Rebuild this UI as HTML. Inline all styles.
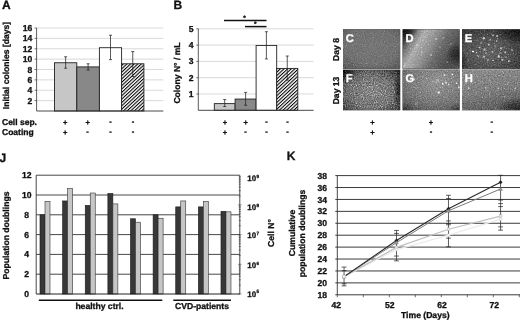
<!DOCTYPE html>
<html><head><meta charset="utf-8"><title>Figure</title>
<style>
html,body{margin:0;padding:0;background:#fff;}
body{width:520px;height:321px;overflow:hidden;}
svg{display:block;}
text{font-family:"Liberation Sans",Arial,sans-serif;font-weight:bold;fill:#111;stroke:#111;stroke-width:0.3px;text-rendering:geometricPrecision;}
</style></head><body>
<svg width="520" height="321" viewBox="0 0 520 321">
<defs>
<pattern id="hatch" width="2.46" height="2.46" patternUnits="userSpaceOnUse" patternTransform="rotate(-43)">
<rect width="2.46" height="2.46" fill="#fff"/><rect width="2.46" height="1.05" fill="#000"/>
</pattern>
<filter id="blur" x="-5%" y="-5%" width="110%" height="110%"><feGaussianBlur stdDeviation="0.35"/></filter>

<filter id="nC" x="0" y="0" width="100%" height="100%" color-interpolation-filters="sRGB">
<feTurbulence type="fractalNoise" baseFrequency="0.9" numOctaves="2" seed="3" result="t"/>
<feColorMatrix in="t" type="matrix" values="1 0 0 0 0  1 0 0 0 0  1 0 0 0 0  0 0 0 0 1" result="g"/>
<feGaussianBlur in="g" stdDeviation="0.45" result="gb"/>
<feComposite in="SourceGraphic" in2="gb" operator="arithmetic" k1="0" k2="1" k3="0.2" k4="-0.1" result="base"/>
<feColorMatrix in="t" type="matrix" values="0 1.6 0 0 -0.3  0 1.6 0 0 -0.3  0 1.6 0 0 -0.3  0 0 0 0 1" result="g2"/>
<feComponentTransfer in="g2" result="sp"><feFuncR type="gamma" amplitude="0.1" exponent="6" offset="0"/><feFuncG type="gamma" amplitude="0.1" exponent="6" offset="0"/><feFuncB type="gamma" amplitude="0.1" exponent="6" offset="0"/></feComponentTransfer>
<feGaussianBlur in="sp" stdDeviation="0.45" result="spb"/>
<feComposite in="SourceGraphic" in2="spb" operator="arithmetic" k1="2.5" k2="0" k3="0" k4="0" result="ms"/>
<feComposite in="base" in2="ms" operator="arithmetic" k1="0" k2="1" k3="1" k4="0"/>
</filter>
<filter id="nD" x="0" y="0" width="100%" height="100%" color-interpolation-filters="sRGB">
<feTurbulence type="fractalNoise" baseFrequency="0.7" numOctaves="2" seed="7" result="t"/>
<feColorMatrix in="t" type="matrix" values="1 0 0 0 0  1 0 0 0 0  1 0 0 0 0  0 0 0 0 1" result="g"/>
<feGaussianBlur in="g" stdDeviation="0.6" result="gb"/>
<feComposite in="SourceGraphic" in2="gb" operator="arithmetic" k1="0" k2="1" k3="0.2" k4="-0.1" result="base"/>
<feColorMatrix in="t" type="matrix" values="0 1.6 0 0 -0.3  0 1.6 0 0 -0.3  0 1.6 0 0 -0.3  0 0 0 0 1" result="g2"/>
<feComponentTransfer in="g2" result="sp"><feFuncR type="gamma" amplitude="0.1" exponent="6" offset="0"/><feFuncG type="gamma" amplitude="0.1" exponent="6" offset="0"/><feFuncB type="gamma" amplitude="0.1" exponent="6" offset="0"/></feComponentTransfer>
<feGaussianBlur in="sp" stdDeviation="0.6" result="spb"/>
<feComposite in="SourceGraphic" in2="spb" operator="arithmetic" k1="2.5" k2="0" k3="0" k4="0" result="ms"/>
<feComposite in="base" in2="ms" operator="arithmetic" k1="0" k2="1" k3="1" k4="0"/>
</filter>
<filter id="nE" x="0" y="0" width="100%" height="100%" color-interpolation-filters="sRGB">
<feTurbulence type="fractalNoise" baseFrequency="0.7" numOctaves="2" seed="11" result="t"/>
<feColorMatrix in="t" type="matrix" values="1 0 0 0 0  1 0 0 0 0  1 0 0 0 0  0 0 0 0 1" result="g"/>
<feGaussianBlur in="g" stdDeviation="0.5" result="gb"/>
<feComposite in="SourceGraphic" in2="gb" operator="arithmetic" k1="0" k2="1" k3="0.3" k4="-0.15" result="base"/>
<feColorMatrix in="t" type="matrix" values="0 1.6 0 0 -0.3  0 1.6 0 0 -0.3  0 1.6 0 0 -0.3  0 0 0 0 1" result="g2"/>
<feComponentTransfer in="g2" result="sp"><feFuncR type="gamma" amplitude="0.3" exponent="6" offset="0"/><feFuncG type="gamma" amplitude="0.3" exponent="6" offset="0"/><feFuncB type="gamma" amplitude="0.3" exponent="6" offset="0"/></feComponentTransfer>
<feGaussianBlur in="sp" stdDeviation="0.5" result="spb"/>
<feComposite in="SourceGraphic" in2="spb" operator="arithmetic" k1="2.5" k2="0" k3="0" k4="0" result="ms"/>
<feComposite in="base" in2="ms" operator="arithmetic" k1="0" k2="1" k3="1" k4="0"/>
</filter>
<filter id="nF" x="0" y="0" width="100%" height="100%" color-interpolation-filters="sRGB">
<feTurbulence type="fractalNoise" baseFrequency="0.9" numOctaves="2" seed="5" result="t"/>
<feColorMatrix in="t" type="matrix" values="1 0 0 0 0  1 0 0 0 0  1 0 0 0 0  0 0 0 0 1" result="g"/>
<feGaussianBlur in="g" stdDeviation="0.5" result="gb"/>
<feComposite in="SourceGraphic" in2="gb" operator="arithmetic" k1="0" k2="1" k3="0.45" k4="-0.225" result="base"/>
<feColorMatrix in="t" type="matrix" values="0 1.6 0 0 -0.3  0 1.6 0 0 -0.3  0 1.6 0 0 -0.3  0 0 0 0 1" result="g2"/>
<feComponentTransfer in="g2" result="sp"><feFuncR type="gamma" amplitude="0.32" exponent="3" offset="0"/><feFuncG type="gamma" amplitude="0.32" exponent="3" offset="0"/><feFuncB type="gamma" amplitude="0.32" exponent="3" offset="0"/></feComponentTransfer>
<feGaussianBlur in="sp" stdDeviation="0.5" result="spb"/>
<feComposite in="SourceGraphic" in2="spb" operator="arithmetic" k1="2.5" k2="0" k3="0" k4="0" result="ms"/>
<feComposite in="base" in2="ms" operator="arithmetic" k1="0" k2="1" k3="1" k4="0"/>
</filter>
<filter id="nG" x="0" y="0" width="100%" height="100%" color-interpolation-filters="sRGB">
<feTurbulence type="fractalNoise" baseFrequency="0.8" numOctaves="2" seed="9" result="t"/>
<feColorMatrix in="t" type="matrix" values="1 0 0 0 0  1 0 0 0 0  1 0 0 0 0  0 0 0 0 1" result="g"/>
<feGaussianBlur in="g" stdDeviation="0.45" result="gb"/>
<feComposite in="SourceGraphic" in2="gb" operator="arithmetic" k1="0" k2="1" k3="0.32" k4="-0.16" result="base"/>
<feColorMatrix in="t" type="matrix" values="0 1.6 0 0 -0.3  0 1.6 0 0 -0.3  0 1.6 0 0 -0.3  0 0 0 0 1" result="g2"/>
<feComponentTransfer in="g2" result="sp"><feFuncR type="gamma" amplitude="0.15" exponent="6" offset="0"/><feFuncG type="gamma" amplitude="0.15" exponent="6" offset="0"/><feFuncB type="gamma" amplitude="0.15" exponent="6" offset="0"/></feComponentTransfer>
<feGaussianBlur in="sp" stdDeviation="0.45" result="spb"/>
<feComposite in="SourceGraphic" in2="spb" operator="arithmetic" k1="2.5" k2="0" k3="0" k4="0" result="ms"/>
<feComposite in="base" in2="ms" operator="arithmetic" k1="0" k2="1" k3="1" k4="0"/>
</filter>
<filter id="nH" x="0" y="0" width="100%" height="100%" color-interpolation-filters="sRGB">
<feTurbulence type="fractalNoise" baseFrequency="0.85" numOctaves="2" seed="13" result="t"/>
<feColorMatrix in="t" type="matrix" values="1 0 0 0 0  1 0 0 0 0  1 0 0 0 0  0 0 0 0 1" result="g"/>
<feGaussianBlur in="g" stdDeviation="0.45" result="gb"/>
<feComposite in="SourceGraphic" in2="gb" operator="arithmetic" k1="0" k2="1" k3="0.36" k4="-0.18" result="base"/>
<feColorMatrix in="t" type="matrix" values="0 1.6 0 0 -0.3  0 1.6 0 0 -0.3  0 1.6 0 0 -0.3  0 0 0 0 1" result="g2"/>
<feComponentTransfer in="g2" result="sp"><feFuncR type="gamma" amplitude="0.15" exponent="6" offset="0"/><feFuncG type="gamma" amplitude="0.15" exponent="6" offset="0"/><feFuncB type="gamma" amplitude="0.15" exponent="6" offset="0"/></feComponentTransfer>
<feGaussianBlur in="sp" stdDeviation="0.45" result="spb"/>
<feComposite in="SourceGraphic" in2="spb" operator="arithmetic" k1="2.5" k2="0" k3="0" k4="0" result="ms"/>
<feComposite in="base" in2="ms" operator="arithmetic" k1="0" k2="1" k3="1" k4="0"/>
</filter>

<linearGradient id="gD" gradientUnits="userSpaceOnUse" x1="402.6" y1="29.3" x2="462.1" y2="64.1">
<stop offset="0" stop-color="#1e1e1e"/><stop offset="0.1" stop-color="#3c3c3c"/><stop offset="0.2" stop-color="#808080"/><stop offset="0.3" stop-color="#acacac"/><stop offset="0.45" stop-color="#929292"/><stop offset="0.6" stop-color="#6c6c6c"/><stop offset="0.8" stop-color="#4e4e4e"/><stop offset="1" stop-color="#525252"/>
</linearGradient>
<radialGradient id="dk"><stop offset="0" stop-color="#000" stop-opacity="0.6"/><stop offset="0.5" stop-color="#000" stop-opacity="0.35"/><stop offset="1" stop-color="#000" stop-opacity="0"/></radialGradient>
<filter id="spotblur" x="-10%" y="-10%" width="120%" height="120%"><feGaussianBlur stdDeviation="0.7"/></filter>
<filter id="spotblurS" x="-10%" y="-10%" width="120%" height="120%"><feGaussianBlur stdDeviation="0.6"/></filter>
<radialGradient id="gC" cx="0.5" cy="0.45" r="0.75">
<stop offset="0" stop-color="#757575"/><stop offset="0.6" stop-color="#707070"/><stop offset="1" stop-color="#555"/>
</radialGradient>
<radialGradient id="gE" cx="0.45" cy="0.6" r="0.75">
<stop offset="0" stop-color="#626262"/><stop offset="0.5" stop-color="#505050"/><stop offset="1" stop-color="#303030"/>
</radialGradient>
<radialGradient id="gF" cx="0.5" cy="0.55" r="0.72">
<stop offset="0" stop-color="#7a7a7a"/><stop offset="0.55" stop-color="#666"/><stop offset="0.85" stop-color="#444"/><stop offset="1" stop-color="#222"/>
</radialGradient>
<radialGradient id="gG" cx="0.6" cy="0.3" r="0.85">
<stop offset="0" stop-color="#939393"/><stop offset="0.6" stop-color="#777"/><stop offset="1" stop-color="#555"/>
</radialGradient>
<linearGradient id="gH" x1="0" y1="0" x2="0.3" y2="1">
<stop offset="0" stop-color="#8a8a8a"/><stop offset="0.6" stop-color="#7c7c7c"/><stop offset="1" stop-color="#606060"/>
</linearGradient>
</defs>
<rect width="520" height="321" fill="#fff"/>

<g id="panelA">
<text x="1.9" y="8.6" font-size="12">A</text>
<line x1="36.6" x2="163.3" y1="100.62" y2="100.62" stroke="#c8c8c8" stroke-width="0.7"/>
<line x1="34.6" x2="36.6" y1="100.62" y2="100.62" stroke="#333" stroke-width="0.7"/>
<text x="32.4" y="103.72" font-size="8.6" text-anchor="end">2</text>
<line x1="36.6" x2="163.3" y1="90.25" y2="90.25" stroke="#c8c8c8" stroke-width="0.7"/>
<line x1="34.6" x2="36.6" y1="90.25" y2="90.25" stroke="#333" stroke-width="0.7"/>
<text x="32.4" y="93.35" font-size="8.6" text-anchor="end">4</text>
<line x1="36.6" x2="163.3" y1="79.88" y2="79.88" stroke="#c8c8c8" stroke-width="0.7"/>
<line x1="34.6" x2="36.6" y1="79.88" y2="79.88" stroke="#333" stroke-width="0.7"/>
<text x="32.4" y="82.97" font-size="8.6" text-anchor="end">6</text>
<line x1="36.6" x2="163.3" y1="69.50" y2="69.50" stroke="#c8c8c8" stroke-width="0.7"/>
<line x1="34.6" x2="36.6" y1="69.50" y2="69.50" stroke="#333" stroke-width="0.7"/>
<text x="32.4" y="72.60" font-size="8.6" text-anchor="end">8</text>
<line x1="36.6" x2="163.3" y1="59.12" y2="59.12" stroke="#c8c8c8" stroke-width="0.7"/>
<line x1="34.6" x2="36.6" y1="59.12" y2="59.12" stroke="#333" stroke-width="0.7"/>
<text x="32.4" y="62.23" font-size="8.6" text-anchor="end">10</text>
<line x1="36.6" x2="163.3" y1="48.75" y2="48.75" stroke="#c8c8c8" stroke-width="0.7"/>
<line x1="34.6" x2="36.6" y1="48.75" y2="48.75" stroke="#333" stroke-width="0.7"/>
<text x="32.4" y="51.85" font-size="8.6" text-anchor="end">12</text>
<line x1="36.6" x2="163.3" y1="38.38" y2="38.38" stroke="#c8c8c8" stroke-width="0.7"/>
<line x1="34.6" x2="36.6" y1="38.38" y2="38.38" stroke="#333" stroke-width="0.7"/>
<text x="32.4" y="41.48" font-size="8.6" text-anchor="end">14</text>
<line x1="36.6" x2="163.3" y1="28.00" y2="28.00" stroke="#c8c8c8" stroke-width="0.7"/>
<line x1="34.6" x2="36.6" y1="28.00" y2="28.00" stroke="#333" stroke-width="0.7"/>
<text x="32.4" y="31.10" font-size="8.6" text-anchor="end">16</text>
<rect x="54.5" y="62.76" width="22.30" height="48.24" fill="#c6c6c6" stroke="#222" stroke-width="0.9"/>
<rect x="76.8" y="66.91" width="22.60" height="44.09" fill="#888888" stroke="#222" stroke-width="0.9"/>
<rect x="99.4" y="47.71" width="22.20" height="63.29" fill="#ffffff" stroke="#222" stroke-width="0.9"/>
<rect x="121.6" y="63.79" width="22.30" height="47.21" fill="url(#hatch)" stroke="#222" stroke-width="0.9"/>
<path d="M65.65 56.79V68.20M64.15 56.79h3M64.15 68.20h3" stroke="#222" stroke-width="0.75" fill="none"/>
<path d="M88.10 63.79V70.02M86.60 63.79h3M86.60 70.02h3" stroke="#222" stroke-width="0.75" fill="none"/>
<path d="M110.50 35.26V59.64M109.00 35.26h3M109.00 59.64h3" stroke="#222" stroke-width="0.75" fill="none"/>
<path d="M132.75 51.60V76.50M131.25 51.60h3M131.25 76.50h3" stroke="#222" stroke-width="0.75" fill="none"/>
<line x1="36.6" x2="36.6" y1="28.0" y2="111.0" stroke="#333" stroke-width="0.8"/>
<line x1="36.6" x2="163.3" y1="111.0" y2="111.0" stroke="#333" stroke-width="0.9"/>
<text transform="translate(8.5,65.5) rotate(-90)" font-size="8.6" text-anchor="middle">Initial colonies [days]</text>
<text x="2" y="124.6" font-size="8.5">Cell sep.</text>
<text x="2" y="134.8" font-size="8.5">Coating</text>
<text x="65.2" y="124.6" font-size="7.5" text-anchor="middle">+</text>
<text x="87.6" y="124.6" font-size="7.5" text-anchor="middle">+</text>
<text x="110.6" y="123.69999999999999" font-size="7.5" text-anchor="middle">-</text>
<text x="133" y="123.69999999999999" font-size="7.5" text-anchor="middle">-</text>
<text x="65.2" y="134.8" font-size="7.5" text-anchor="middle">+</text>
<text x="87.6" y="133.9" font-size="7.5" text-anchor="middle">-</text>
<text x="110.6" y="133.9" font-size="7.5" text-anchor="middle">-</text>
<text x="133" y="133.9" font-size="7.5" text-anchor="middle">-</text>
</g>
<g id="panelB">
<text x="173.6" y="8.7" font-size="12">B</text>
<line x1="198.3" x2="313.6" y1="94.00" y2="94.00" stroke="#c8c8c8" stroke-width="0.7"/>
<line x1="196.3" x2="198.3" y1="94.00" y2="94.00" stroke="#333" stroke-width="0.7"/>
<text x="193.5" y="97.00" font-size="8.6" text-anchor="end">1</text>
<line x1="198.3" x2="313.6" y1="77.70" y2="77.70" stroke="#c8c8c8" stroke-width="0.7"/>
<line x1="196.3" x2="198.3" y1="77.70" y2="77.70" stroke="#333" stroke-width="0.7"/>
<text x="193.5" y="80.70" font-size="8.6" text-anchor="end">2</text>
<line x1="198.3" x2="313.6" y1="61.40" y2="61.40" stroke="#c8c8c8" stroke-width="0.7"/>
<line x1="196.3" x2="198.3" y1="61.40" y2="61.40" stroke="#333" stroke-width="0.7"/>
<text x="193.5" y="64.40" font-size="8.6" text-anchor="end">3</text>
<line x1="198.3" x2="313.6" y1="45.10" y2="45.10" stroke="#c8c8c8" stroke-width="0.7"/>
<line x1="196.3" x2="198.3" y1="45.10" y2="45.10" stroke="#333" stroke-width="0.7"/>
<text x="193.5" y="48.10" font-size="8.6" text-anchor="end">4</text>
<line x1="198.3" x2="313.6" y1="28.80" y2="28.80" stroke="#c8c8c8" stroke-width="0.7"/>
<line x1="196.3" x2="198.3" y1="28.80" y2="28.80" stroke="#333" stroke-width="0.7"/>
<text x="193.5" y="31.80" font-size="8.6" text-anchor="end">5</text>
<rect x="214.3" y="103.62" width="20.80" height="6.68" fill="#c6c6c6" stroke="#222" stroke-width="0.9"/>
<rect x="235.1" y="99.05" width="21.00" height="11.25" fill="#888888" stroke="#222" stroke-width="0.9"/>
<rect x="256.1" y="45.43" width="20.60" height="64.87" fill="#ffffff" stroke="#222" stroke-width="0.9"/>
<rect x="276.7" y="68.41" width="21.10" height="41.89" fill="url(#hatch)" stroke="#222" stroke-width="0.9"/>
<path d="M224.70 99.54V106.55M223.20 99.54h3M223.20 106.55h3" stroke="#222" stroke-width="0.75" fill="none"/>
<path d="M245.60 92.37V105.25M244.10 92.37h3M244.10 105.25h3" stroke="#222" stroke-width="0.75" fill="none"/>
<path d="M266.40 31.73V58.96M264.90 31.73h3M264.90 58.96h3" stroke="#222" stroke-width="0.75" fill="none"/>
<path d="M287.25 56.02V80.14M285.75 56.02h3M285.75 80.14h3" stroke="#222" stroke-width="0.75" fill="none"/>
<line x1="198.3" x2="198.3" y1="28.8" y2="110.3" stroke="#333" stroke-width="0.8"/>
<line x1="198.3" x2="313.6" y1="110.3" y2="110.3" stroke="#333" stroke-width="0.9"/>
<line x1="224" x2="266.5" y1="20.6" y2="20.6" stroke="#111" stroke-width="1.5"/>
<line x1="245" x2="266.5" y1="26.6" y2="26.6" stroke="#111" stroke-width="1.5"/>
<text x="244.5" y="20.2" font-size="6.5" text-anchor="middle">*</text>
<text x="255.3" y="26.4" font-size="6.5" text-anchor="middle">*</text>
<text transform="translate(180,73) rotate(-90)" font-size="8.6" text-anchor="middle">Colony N° / mL</text>
<text x="225" y="125" font-size="7.5" text-anchor="middle">+</text>
<text x="245.6" y="125" font-size="7.5" text-anchor="middle">+</text>
<text x="266.6" y="124.1" font-size="7.5" text-anchor="middle">-</text>
<text x="287.4" y="124.1" font-size="7.5" text-anchor="middle">-</text>
<text x="225" y="135" font-size="7.5" text-anchor="middle">+</text>
<text x="245.6" y="134.1" font-size="7.5" text-anchor="middle">-</text>
<text x="266.6" y="134.1" font-size="7.5" text-anchor="middle">-</text>
<text x="287.4" y="134.1" font-size="7.5" text-anchor="middle">-</text>
</g>
<g id="micro">
<rect x="343" y="29.3" width="177" height="80.9" fill="#a4a4a4"/>
<rect x="400.2" y="29" width="2.4" height="81.5" fill="#fff"/>
<rect x="459.6" y="29" width="2.4" height="81.5" fill="#fff"/>
<clipPath id="cpC"><rect x="343" y="29.3" width="57.20" height="39.40"/></clipPath>
<g clip-path="url(#cpC)"><g filter="url(#nC)">
<rect x="343" y="29.3" width="57.20" height="39.40" fill="url(#gC)"/>

</g></g>
<text x="345.8" y="41.5" font-size="11.2" style="fill:#fff;stroke:#fff">C</text>
<clipPath id="cpD"><rect x="402.6" y="29.3" width="57.00" height="39.40"/></clipPath>
<g clip-path="url(#cpD)"><g filter="url(#nD)">
<rect x="402.6" y="29.3" width="57.00" height="39.40" fill="url(#gD)"/>
<ellipse cx="459" cy="55" rx="13" ry="12" fill="url(#dk)"/><ellipse cx="404" cy="31" rx="14" ry="9" fill="url(#dk)"/>
<g filter="url(#spotblur)">
<circle cx="417" cy="45" r="0.88" fill="#fff" fill-opacity="0.5"/>
<circle cx="425" cy="37" r="0.77" fill="#fff" fill-opacity="0.5"/>
<circle cx="436" cy="39" r="0.88" fill="#fff" fill-opacity="0.5"/>
<circle cx="443" cy="38" r="0.77" fill="#fff" fill-opacity="0.5"/>
<circle cx="431" cy="55" r="0.88" fill="#fff" fill-opacity="0.5"/>
<circle cx="440" cy="47" r="0.66" fill="#fff" fill-opacity="0.5"/>
<circle cx="447" cy="62" r="0.66" fill="#fff" fill-opacity="0.5"/>
<circle cx="422" cy="52" r="0.66" fill="#fff" fill-opacity="0.5"/>
<circle cx="451" cy="44" r="0.66" fill="#fff" fill-opacity="0.5"/>
</g>
</g></g>
<text x="405.40000000000003" y="41.5" font-size="11.2" style="fill:#fff;stroke:#fff">D</text>
<clipPath id="cpE"><rect x="462" y="29.3" width="58.00" height="39.40"/></clipPath>
<g clip-path="url(#cpE)"><g filter="url(#nE)">
<rect x="462" y="29.3" width="58.00" height="39.40" fill="url(#gE)"/>
<ellipse cx="519" cy="30" rx="26" ry="14" fill="url(#dk)"/><ellipse cx="462" cy="62" rx="6" ry="10" fill="url(#dk)" opacity="0.6"/>
<g filter="url(#spotblurS)">
<circle cx="483.8" cy="38.2" r="1.26" fill="#fff" fill-opacity="0.65"/>
<circle cx="493.1" cy="35.3" r="0.92" fill="#fff" fill-opacity="0.65"/>
<circle cx="497" cy="36" r="0.92" fill="#fff" fill-opacity="0.65"/>
<circle cx="488.8" cy="44.6" r="0.92" fill="#fff" fill-opacity="0.65"/>
<circle cx="501" cy="48.2" r="1.03" fill="#fff" fill-opacity="0.65"/>
<circle cx="473" cy="51.5" r="0.92" fill="#fff" fill-opacity="0.65"/>
<circle cx="476.6" cy="52.5" r="0.80" fill="#fff" fill-opacity="0.65"/>
<circle cx="484.5" cy="49.6" r="1.03" fill="#fff" fill-opacity="0.65"/>
<circle cx="483.8" cy="56.8" r="1.03" fill="#fff" fill-opacity="0.65"/>
<circle cx="498.8" cy="56.4" r="1.26" fill="#fff" fill-opacity="0.65"/>
<circle cx="502.4" cy="59.7" r="1.03" fill="#fff" fill-opacity="0.65"/>
<circle cx="505.3" cy="52.5" r="0.92" fill="#fff" fill-opacity="0.65"/>
<circle cx="508.9" cy="61.1" r="0.92" fill="#fff" fill-opacity="0.65"/>
<circle cx="496.7" cy="41" r="0.80" fill="#fff" fill-opacity="0.65"/>
<circle cx="479.5" cy="47.5" r="0.80" fill="#fff" fill-opacity="0.65"/>
<circle cx="492.4" cy="51.8" r="0.92" fill="#fff" fill-opacity="0.65"/>
<circle cx="488" cy="60" r="0.80" fill="#fff" fill-opacity="0.65"/>
<circle cx="493" cy="60.5" r="0.80" fill="#fff" fill-opacity="0.65"/>
<circle cx="486" cy="53" r="0.69" fill="#fff" fill-opacity="0.65"/>
<circle cx="495" cy="46" r="0.69" fill="#fff" fill-opacity="0.65"/>
<circle cx="490" cy="40" r="0.69" fill="#fff" fill-opacity="0.65"/>
<circle cx="500" cy="53" r="0.69" fill="#fff" fill-opacity="0.65"/>
<circle cx="481" cy="43" r="0.69" fill="#fff" fill-opacity="0.65"/>
<circle cx="506" cy="57" r="0.69" fill="#fff" fill-opacity="0.65"/>
<circle cx="478" cy="56" r="0.69" fill="#fff" fill-opacity="0.65"/>
<circle cx="512" cy="50" r="0.69" fill="#fff" fill-opacity="0.65"/>
</g>
</g></g>
<text x="464.8" y="41.5" font-size="11.2" style="fill:#fff;stroke:#fff">E</text>
<clipPath id="cpF"><rect x="343" y="70" width="57.20" height="40.20"/></clipPath>
<g clip-path="url(#cpF)"><g filter="url(#nF)">
<rect x="343" y="70" width="57.20" height="40.20" fill="url(#gF)"/>
<ellipse cx="344" cy="74" rx="12" ry="9" fill="url(#dk)"/><ellipse cx="399" cy="90" rx="6" ry="22" fill="url(#dk)"/>
</g></g>
<text x="345.8" y="82.2" font-size="11.2" style="fill:#fff;stroke:#fff">F</text>
<clipPath id="cpG"><rect x="402.6" y="70" width="57.00" height="40.20"/></clipPath>
<g clip-path="url(#cpG)"><g filter="url(#nG)">
<rect x="402.6" y="70" width="57.00" height="40.20" fill="url(#gG)"/>
<ellipse cx="403" cy="110" rx="12" ry="7" fill="url(#dk)" opacity="0.6"/><ellipse cx="459" cy="110" rx="11" ry="7" fill="url(#dk)" opacity="0.6"/>
<g filter="url(#spotblur)">
<circle cx="438.7" cy="92.5" r="1.32" fill="#fff" fill-opacity="0.7"/>
<circle cx="445.8" cy="82.5" r="0.99" fill="#fff" fill-opacity="0.7"/>
<circle cx="443" cy="83.9" r="0.88" fill="#fff" fill-opacity="0.7"/>
<circle cx="444.4" cy="75.3" r="0.99" fill="#fff" fill-opacity="0.7"/>
<circle cx="452.3" cy="74.6" r="0.99" fill="#fff" fill-opacity="0.7"/>
<circle cx="459" cy="87.5" r="0.99" fill="#fff" fill-opacity="0.7"/>
<circle cx="456.6" cy="83.2" r="0.88" fill="#fff" fill-opacity="0.7"/>
<circle cx="414.3" cy="79.6" r="0.77" fill="#fff" fill-opacity="0.7"/>
<circle cx="438" cy="80.3" r="0.77" fill="#fff" fill-opacity="0.7"/>
<circle cx="448.7" cy="84.6" r="0.88" fill="#fff" fill-opacity="0.7"/>
<circle cx="416" cy="104" r="0.77" fill="#fff" fill-opacity="0.7"/>
</g>
</g></g>
<text x="405.40000000000003" y="82.2" font-size="11.2" style="fill:#fff;stroke:#fff">G</text>
<clipPath id="cpH"><rect x="462" y="70" width="58.00" height="40.20"/></clipPath>
<g clip-path="url(#cpH)"><g filter="url(#nH)">
<rect x="462" y="70" width="58.00" height="40.20" fill="url(#gH)"/>
<ellipse cx="519" cy="109" rx="22" ry="12" fill="url(#dk)"/>
<g filter="url(#spotblur)">
<circle cx="468.7" cy="88.2" r="0.88" fill="#fff" fill-opacity="0.5"/>
<circle cx="485.9" cy="88" r="0.88" fill="#fff" fill-opacity="0.5"/>
<circle cx="498.1" cy="88.3" r="0.88" fill="#fff" fill-opacity="0.5"/>
<circle cx="515.3" cy="88.5" r="0.88" fill="#fff" fill-opacity="0.5"/>
<circle cx="490" cy="81" r="0.66" fill="#fff" fill-opacity="0.5"/>
<circle cx="505" cy="97" r="0.66" fill="#fff" fill-opacity="0.5"/>
</g>
</g></g>
<text x="464.8" y="82.2" font-size="11.2" style="fill:#fff;stroke:#fff">H</text>
<text transform="translate(338.6,49.5) rotate(-90)" font-size="8.6" text-anchor="middle">Day 8</text>
<text transform="translate(338.6,90.5) rotate(-90)" font-size="8.6" text-anchor="middle">Day 13</text>
<text x="372.5" y="125" font-size="7.5" text-anchor="middle">+</text>
<text x="431" y="125" font-size="7.5" text-anchor="middle">+</text>
<text x="491.8" y="124.1" font-size="7.5" text-anchor="middle">-</text>
<text x="372.5" y="135" font-size="7.5" text-anchor="middle">+</text>
<text x="431" y="134.1" font-size="7.5" text-anchor="middle">-</text>
<text x="491.8" y="134.1" font-size="7.5" text-anchor="middle">-</text>
</g>
<g id="panelJ">
<text x="-0.5" y="161.6" font-size="12">J</text>
<text x="26.7" y="297.00" font-size="8.6" text-anchor="middle">0</text>
<line x1="36.2" x2="239.8" y1="274.20" y2="274.20" stroke="#333" stroke-width="0.9"/>
<text x="26.7" y="277.20" font-size="8.6" text-anchor="middle">2</text>
<line x1="36.2" x2="239.8" y1="254.40" y2="254.40" stroke="#333" stroke-width="0.9"/>
<text x="26.7" y="257.40" font-size="8.6" text-anchor="middle">4</text>
<line x1="36.2" x2="239.8" y1="234.60" y2="234.60" stroke="#333" stroke-width="0.9"/>
<text x="26.7" y="237.60" font-size="8.6" text-anchor="middle">6</text>
<line x1="36.2" x2="239.8" y1="214.80" y2="214.80" stroke="#333" stroke-width="0.9"/>
<text x="26.7" y="217.80" font-size="8.6" text-anchor="middle">8</text>
<line x1="36.2" x2="239.8" y1="195.00" y2="195.00" stroke="#333" stroke-width="0.9"/>
<text x="26.7" y="198.00" font-size="8.6" text-anchor="middle">10</text>
<line x1="36.2" x2="239.8" y1="175.20" y2="175.20" stroke="#333" stroke-width="0.9"/>
<text x="26.7" y="178.20" font-size="8.6" text-anchor="middle">12</text>
<rect x="40.00" y="214.80" width="5" height="79.20" fill="#383838" stroke="#1a1a1a" stroke-width="0.6"/>
<rect x="45.00" y="201.44" width="5" height="92.56" fill="#c6c6c6" stroke="#333" stroke-width="0.6"/>
<rect x="62.62" y="200.94" width="5" height="93.06" fill="#383838" stroke="#1a1a1a" stroke-width="0.6"/>
<rect x="67.62" y="188.56" width="5" height="105.44" fill="#c6c6c6" stroke="#333" stroke-width="0.6"/>
<rect x="85.24" y="205.39" width="5" height="88.61" fill="#383838" stroke="#1a1a1a" stroke-width="0.6"/>
<rect x="90.24" y="193.02" width="5" height="100.98" fill="#c6c6c6" stroke="#333" stroke-width="0.6"/>
<rect x="107.87" y="193.51" width="5" height="100.49" fill="#383838" stroke="#1a1a1a" stroke-width="0.6"/>
<rect x="112.87" y="203.91" width="5" height="90.09" fill="#c6c6c6" stroke="#333" stroke-width="0.6"/>
<rect x="130.49" y="218.76" width="5" height="75.24" fill="#383838" stroke="#1a1a1a" stroke-width="0.6"/>
<rect x="135.49" y="222.22" width="5" height="71.78" fill="#c6c6c6" stroke="#333" stroke-width="0.6"/>
<rect x="153.11" y="214.80" width="5" height="79.20" fill="#383838" stroke="#1a1a1a" stroke-width="0.6"/>
<rect x="158.11" y="218.26" width="5" height="75.74" fill="#c6c6c6" stroke="#333" stroke-width="0.6"/>
<rect x="175.73" y="206.88" width="5" height="87.12" fill="#383838" stroke="#1a1a1a" stroke-width="0.6"/>
<rect x="180.73" y="200.94" width="5" height="93.06" fill="#c6c6c6" stroke="#333" stroke-width="0.6"/>
<rect x="198.36" y="206.88" width="5" height="87.12" fill="#383838" stroke="#1a1a1a" stroke-width="0.6"/>
<rect x="203.36" y="201.44" width="5" height="92.56" fill="#c6c6c6" stroke="#333" stroke-width="0.6"/>
<rect x="220.98" y="211.33" width="5" height="82.67" fill="#383838" stroke="#1a1a1a" stroke-width="0.6"/>
<rect x="225.98" y="211.83" width="5" height="82.17" fill="#c6c6c6" stroke="#333" stroke-width="0.6"/>
<line x1="36.2" x2="36.2" y1="175.2" y2="294.0" stroke="#333" stroke-width="0.9"/>
<line x1="239.8" x2="239.8" y1="175.2" y2="294.0" stroke="#333" stroke-width="0.9"/>
<line x1="36.2" x2="239.8" y1="294.0" y2="294.0" stroke="#222" stroke-width="1"/>
<line x1="238.00" x2="241.60" y1="294.00" y2="294.00" stroke="#333" stroke-width="0.5"/>
<line x1="238.70" x2="240.90" y1="285.06" y2="285.06" stroke="#333" stroke-width="0.5"/>
<line x1="238.70" x2="240.90" y1="279.83" y2="279.83" stroke="#333" stroke-width="0.5"/>
<line x1="238.70" x2="240.90" y1="276.12" y2="276.12" stroke="#333" stroke-width="0.5"/>
<line x1="238.70" x2="240.90" y1="273.24" y2="273.24" stroke="#333" stroke-width="0.5"/>
<line x1="238.70" x2="240.90" y1="270.89" y2="270.89" stroke="#333" stroke-width="0.5"/>
<line x1="238.70" x2="240.90" y1="268.90" y2="268.90" stroke="#333" stroke-width="0.5"/>
<line x1="238.70" x2="240.90" y1="267.18" y2="267.18" stroke="#333" stroke-width="0.5"/>
<line x1="238.70" x2="240.90" y1="265.66" y2="265.66" stroke="#333" stroke-width="0.5"/>
<line x1="238.00" x2="241.60" y1="264.30" y2="264.30" stroke="#333" stroke-width="0.5"/>
<line x1="238.70" x2="240.90" y1="255.36" y2="255.36" stroke="#333" stroke-width="0.5"/>
<line x1="238.70" x2="240.90" y1="250.13" y2="250.13" stroke="#333" stroke-width="0.5"/>
<line x1="238.70" x2="240.90" y1="246.42" y2="246.42" stroke="#333" stroke-width="0.5"/>
<line x1="238.70" x2="240.90" y1="243.54" y2="243.54" stroke="#333" stroke-width="0.5"/>
<line x1="238.70" x2="240.90" y1="241.19" y2="241.19" stroke="#333" stroke-width="0.5"/>
<line x1="238.70" x2="240.90" y1="239.20" y2="239.20" stroke="#333" stroke-width="0.5"/>
<line x1="238.70" x2="240.90" y1="237.48" y2="237.48" stroke="#333" stroke-width="0.5"/>
<line x1="238.70" x2="240.90" y1="235.96" y2="235.96" stroke="#333" stroke-width="0.5"/>
<line x1="238.00" x2="241.60" y1="234.60" y2="234.60" stroke="#333" stroke-width="0.5"/>
<line x1="238.70" x2="240.90" y1="225.66" y2="225.66" stroke="#333" stroke-width="0.5"/>
<line x1="238.70" x2="240.90" y1="220.43" y2="220.43" stroke="#333" stroke-width="0.5"/>
<line x1="238.70" x2="240.90" y1="216.72" y2="216.72" stroke="#333" stroke-width="0.5"/>
<line x1="238.70" x2="240.90" y1="213.84" y2="213.84" stroke="#333" stroke-width="0.5"/>
<line x1="238.70" x2="240.90" y1="211.49" y2="211.49" stroke="#333" stroke-width="0.5"/>
<line x1="238.70" x2="240.90" y1="209.50" y2="209.50" stroke="#333" stroke-width="0.5"/>
<line x1="238.70" x2="240.90" y1="207.78" y2="207.78" stroke="#333" stroke-width="0.5"/>
<line x1="238.70" x2="240.90" y1="206.26" y2="206.26" stroke="#333" stroke-width="0.5"/>
<line x1="238.00" x2="241.60" y1="204.90" y2="204.90" stroke="#333" stroke-width="0.5"/>
<line x1="238.70" x2="240.90" y1="195.96" y2="195.96" stroke="#333" stroke-width="0.5"/>
<line x1="238.70" x2="240.90" y1="190.73" y2="190.73" stroke="#333" stroke-width="0.5"/>
<line x1="238.70" x2="240.90" y1="187.02" y2="187.02" stroke="#333" stroke-width="0.5"/>
<line x1="238.70" x2="240.90" y1="184.14" y2="184.14" stroke="#333" stroke-width="0.5"/>
<line x1="238.70" x2="240.90" y1="181.79" y2="181.79" stroke="#333" stroke-width="0.5"/>
<line x1="238.70" x2="240.90" y1="179.80" y2="179.80" stroke="#333" stroke-width="0.5"/>
<line x1="238.70" x2="240.90" y1="178.08" y2="178.08" stroke="#333" stroke-width="0.5"/>
<line x1="238.70" x2="240.90" y1="176.56" y2="176.56" stroke="#333" stroke-width="0.5"/>
<text x="247.3" y="296.5" font-size="7.9">10<tspan font-size="4.6" dy="-3.1" dx="0.4">5</tspan></text>
<text x="247.3" y="267.6" font-size="7.9">10<tspan font-size="4.6" dy="-3.1" dx="0.4">6</tspan></text>
<text x="247.3" y="238.0" font-size="7.9">10<tspan font-size="4.6" dy="-3.1" dx="0.4">7</tspan></text>
<text x="247.3" y="209.7" font-size="7.9">10<tspan font-size="4.6" dy="-3.1" dx="0.4">8</tspan></text>
<text x="247.3" y="180.6" font-size="7.9">10<tspan font-size="4.6" dy="-3.1" dx="0.4">9</tspan></text>
<text transform="translate(8.5,235.5) rotate(-90)" font-size="8.6" text-anchor="middle">Population doublings</text>
<text transform="translate(274,233) rotate(-90)" font-size="8.6" text-anchor="middle">Cell N°</text>
<line x1="38.8" x2="162.3" y1="300.2" y2="300.2" stroke="#111" stroke-width="1.4"/>
<line x1="173.3" x2="231" y1="300.2" y2="300.2" stroke="#111" stroke-width="1.4"/>
<text x="99.5" y="309" font-size="8.6" text-anchor="middle">healthy ctrl.</text>
<text x="202" y="309" font-size="8.6" text-anchor="middle">CVD-patients</text>
</g>
<g id="panelK">
<text x="286.8" y="159.8" font-size="12">K</text>
<line x1="335.3" x2="520" y1="294.80" y2="294.80" stroke="#303030" stroke-width="0.95"/>
<text x="327.0" y="297.90" font-size="8.6" text-anchor="end">18</text>
<line x1="335.3" x2="520" y1="282.88" y2="282.88" stroke="#303030" stroke-width="0.95"/>
<text x="327.0" y="285.98" font-size="8.6" text-anchor="end">20</text>
<line x1="335.3" x2="520" y1="270.96" y2="270.96" stroke="#303030" stroke-width="0.95"/>
<text x="327.0" y="274.06" font-size="8.6" text-anchor="end">22</text>
<line x1="335.3" x2="520" y1="259.04" y2="259.04" stroke="#303030" stroke-width="0.95"/>
<text x="327.0" y="262.14" font-size="8.6" text-anchor="end">24</text>
<line x1="335.3" x2="520" y1="247.12" y2="247.12" stroke="#303030" stroke-width="0.95"/>
<text x="327.0" y="250.22" font-size="8.6" text-anchor="end">26</text>
<line x1="335.3" x2="520" y1="235.20" y2="235.20" stroke="#303030" stroke-width="0.95"/>
<text x="327.0" y="238.30" font-size="8.6" text-anchor="end">28</text>
<line x1="335.3" x2="520" y1="223.28" y2="223.28" stroke="#303030" stroke-width="0.95"/>
<text x="327.0" y="226.38" font-size="8.6" text-anchor="end">30</text>
<line x1="335.3" x2="520" y1="211.36" y2="211.36" stroke="#303030" stroke-width="0.95"/>
<text x="327.0" y="214.46" font-size="8.6" text-anchor="end">32</text>
<line x1="335.3" x2="520" y1="199.44" y2="199.44" stroke="#303030" stroke-width="0.95"/>
<text x="327.0" y="202.54" font-size="8.6" text-anchor="end">34</text>
<line x1="335.3" x2="520" y1="187.52" y2="187.52" stroke="#303030" stroke-width="0.95"/>
<text x="327.0" y="190.62" font-size="8.6" text-anchor="end">36</text>
<line x1="335.3" x2="520" y1="175.60" y2="175.60" stroke="#303030" stroke-width="0.95"/>
<text x="327.0" y="178.70" font-size="8.6" text-anchor="end">38</text>
<line x1="337.3" x2="337.3" y1="175.6" y2="294.8" stroke="#333" stroke-width="0.9"/>
<line x1="337.30" x2="337.30" y1="294.8" y2="297.3" stroke="#333" stroke-width="0.7"/>
<line x1="363.30" x2="363.30" y1="294.8" y2="297.3" stroke="#333" stroke-width="0.7"/>
<line x1="389.30" x2="389.30" y1="294.8" y2="297.3" stroke="#333" stroke-width="0.7"/>
<line x1="415.30" x2="415.30" y1="294.8" y2="297.3" stroke="#333" stroke-width="0.7"/>
<line x1="441.30" x2="441.30" y1="294.8" y2="297.3" stroke="#333" stroke-width="0.7"/>
<line x1="467.30" x2="467.30" y1="294.8" y2="297.3" stroke="#333" stroke-width="0.7"/>
<line x1="493.30" x2="493.30" y1="294.8" y2="297.3" stroke="#333" stroke-width="0.7"/>
<line x1="519.30" x2="519.30" y1="294.8" y2="297.3" stroke="#333" stroke-width="0.7"/>
<text x="336.3" y="307.9" font-size="8.6" text-anchor="middle">42</text>
<text x="389.8" y="307.9" font-size="8.6" text-anchor="middle">52</text>
<text x="442.0" y="307.9" font-size="8.6" text-anchor="middle">62</text>
<text x="494.3" y="307.9" font-size="8.6" text-anchor="middle">72</text>
<text x="425.3" y="317.9" font-size="8.6" text-anchor="middle">Time (Days)</text>
<text transform="translate(294.5,233) rotate(-90)" font-size="8.6" text-anchor="middle">Cumulative</text>
<text transform="translate(304.5,233.5) rotate(-90)" font-size="8.6" text-anchor="middle">population doublings</text>
<polyline points="344.06,276.62 396.48,249.50 448.48,235.20 500.58,219.11" fill="none" stroke="#ececec" stroke-width="1.3"/>
<polyline points="344.06,276.62 396.48,247.42 448.48,229.24 500.58,216.13" fill="none" stroke="#c0c0c0" stroke-width="1.2"/>
<polyline points="344.06,276.62 396.48,242.65 448.48,210.76 500.58,189.01" fill="none" stroke="#7a7a7a" stroke-width="1.0"/>
<polyline points="344.06,276.62 396.48,240.56 448.48,208.68 500.58,182.16" fill="none" stroke="#2a2a2a" stroke-width="1.1"/>
<path d="M344.06 267.09V285.86M341.66 267.09h4.8M341.66 270.66h4.8M341.66 283.77h4.8M341.66 285.86h4.8" stroke="#2a2a2a" stroke-width="0.75" fill="none"/>
<path d="M396.48 230.43V260.83M394.08 230.43h4.8M394.08 233.41h4.8M394.08 256.06h4.8M394.08 260.83h4.8" stroke="#2a2a2a" stroke-width="0.75" fill="none"/>
<path d="M448.48 195.27V246.82M446.08 195.27h4.8M446.08 198.55h4.8M446.08 220.90h4.8M446.08 223.58h4.8M446.08 224.77h4.8M446.08 238.18h4.8M446.08 246.82h4.8" stroke="#2a2a2a" stroke-width="0.75" fill="none"/>
<path d="M500.58 175.30V230.13M498.18 175.30h4.8M498.18 200.04h4.8M498.18 203.61h4.8M498.18 206.59h4.8M498.18 226.86h4.8M498.18 230.13h4.8" stroke="#2a2a2a" stroke-width="0.75" fill="none"/>
<path d="M344.06 274.62l2 2l-2 2l-2 -2z" fill="#222"/>
<path d="M396.48 238.56l2 2l-2 2l-2 -2z" fill="#222"/>
<path d="M448.48 206.68l2 2l-2 2l-2 -2z" fill="#222"/>
<path d="M500.58 180.16l2 2l-2 2l-2 -2z" fill="#222"/>
<path d="M344.06 274.82l1.9 3.2h-3.8z" fill="#999" stroke="#666" stroke-width="0.4"/>
<path d="M396.48 240.85l1.9 3.2h-3.8z" fill="#999" stroke="#666" stroke-width="0.4"/>
<path d="M448.48 208.96l1.9 3.2h-3.8z" fill="#999" stroke="#666" stroke-width="0.4"/>
<path d="M500.58 187.21l1.9 3.2h-3.8z" fill="#999" stroke="#666" stroke-width="0.4"/>
<rect x="342.66" y="275.22" width="2.8" height="2.8" fill="#e6e6e6" stroke="#aaa" stroke-width="0.4"/>
<rect x="395.08" y="246.02" width="2.8" height="2.8" fill="#e6e6e6" stroke="#aaa" stroke-width="0.4"/>
<rect x="447.08" y="227.84" width="2.8" height="2.8" fill="#e6e6e6" stroke="#aaa" stroke-width="0.4"/>
<rect x="499.18" y="214.73" width="2.8" height="2.8" fill="#e6e6e6" stroke="#aaa" stroke-width="0.4"/>
<circle cx="344.06" cy="276.62" r="1.5" fill="#f4f4f4" stroke="#c4c4c4" stroke-width="0.4"/>
<circle cx="396.48" cy="249.50" r="1.5" fill="#f4f4f4" stroke="#c4c4c4" stroke-width="0.4"/>
<circle cx="448.48" cy="235.20" r="1.5" fill="#f4f4f4" stroke="#c4c4c4" stroke-width="0.4"/>
<circle cx="500.58" cy="219.11" r="1.5" fill="#f4f4f4" stroke="#c4c4c4" stroke-width="0.4"/>
</g>
</svg>
</body></html>
